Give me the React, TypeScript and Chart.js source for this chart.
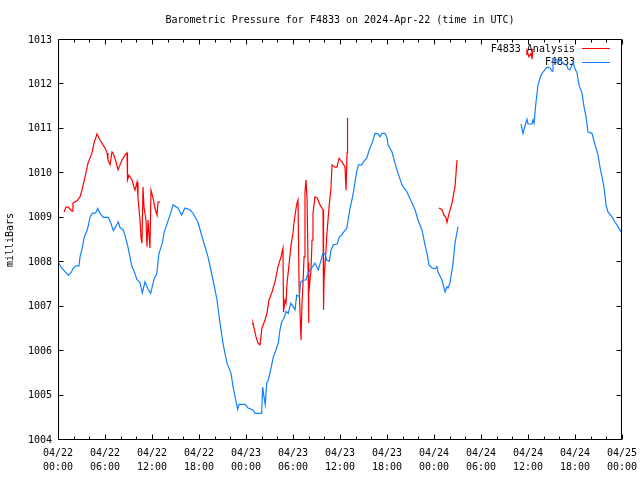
import React, { useEffect, useRef } from "react";
import { Chart, registerables } from "chart.js";

Chart.register(...registerables);

const chartTitle = "Barometric Pressure for F4833 on 2024-Apr-22 (time in UTC)";
const yAxisTitle = "milliBars";
const analysisLabel = "F4833 Analysis";
const stationLabel = "F4833";

const xTickDates = ["04/22", "04/22", "04/22", "04/22", "04/23", "04/23", "04/23", "04/23", "04/24", "04/24", "04/24", "04/24", "04/25"];
const xTickTimes = ["00:00", "06:00", "12:00", "18:00", "00:00", "06:00", "12:00", "18:00", "00:00", "06:00", "12:00", "18:00", "00:00"];

// hours since 2024-04-22 00:00 UTC; null pressure = data gap
const stationHours = [
  0.00, 0.47, 0.89, 1.31, 1.66, 1.95, 2.26, 2.68, 2.81, 3.10, 3.36, 3.66, 3.87, 4.09, 4.38, 4.81, 5.07, 5.36, 5.78, 6.42,
  6.77, 7.06, 7.37, 7.70, 7.92, 8.34, 8.55, 8.77, 8.97, 9.41, 9.83, 10.05, 10.47, 10.76, 11.11, 11.45, 11.83, 12.26, 12.60, 12.89,
  13.32, 13.57, 14.30, 14.68, 15.32, 15.79, 16.21, 16.85, 17.24, 17.87, 18.51, 19.15, 19.79, 20.30, 20.68, 21.06, 21.57, 22.09, 22.34, 22.94,
  23.11, 23.87, 24.26, 24.86, 25.15, 26.00, 26.13, 26.30, 26.46, 26.64, 26.85, 27.15, 27.49, 27.83, 28.12, 28.34, 28.56, 28.85, 29.11, 29.40,
  29.71, 30.04, 30.26, 30.47, 30.81, 30.98, 31.32, 31.66, 31.83, 32.17, 32.52, 32.81, 33.03, 33.23, 33.54, 33.79, 34.09, 34.30, 34.64, 34.85,
  35.15, 35.66, 35.91, 36.22, 36.51, 36.86, 37.06, 37.28, 37.62, 37.83, 38.13, 38.34, 38.77, 38.98, 39.41, 39.74, 40.09, 40.47, 40.85, 41.11,
  41.36, 41.75, 42.00, 42.13, 42.64, 43.02, 43.41, 43.92, 44.55, 45.19, 45.58, 45.96, 46.47, 46.85, 47.11, 47.36, 47.75, 48.13, 48.38, 48.51,
  49.02, 49.41, 49.66, 49.79, 50.04, 50.43, 50.68, 51.07,
  55.00,
  59.11, 59.36, 59.62, 59.87, 60.00, 60.51, 60.64, 60.77, 61.02, 61.28, 61.66, 61.92, 62.43, 62.81, 63.07, 63.19, 63.70, 63.83, 64.09, 64.47,
  64.98, 65.11, 65.36, 65.62, 65.75, 66.00, 66.26, 66.51, 66.90, 67.15, 67.41, 67.66, 68.17, 68.56, 68.94, 69.19, 69.45, 69.70, 69.96, 70.21,
  70.72, 71.11, 71.49, 71.88,
];
const stationPressure = [
  1008.01, 1007.87, 1007.79, 1007.71, 1007.76, 1007.87, 1007.92, 1007.92, 1008.12, 1008.32, 1008.57, 1008.69, 1008.82, 1009.02, 1009.10, 1009.11, 1009.21, 1009.10, 1009.01, 1009.01,
  1008.87, 1008.71, 1008.80, 1008.91, 1008.78, 1008.72, 1008.61, 1008.46, 1008.31, 1007.92, 1007.75, 1007.62, 1007.54, 1007.31, 1007.56, 1007.41, 1007.30, 1007.62, 1007.74, 1008.20,
  1008.43, 1008.69, 1009.06, 1009.29, 1009.22, 1009.06, 1009.22, 1009.18, 1009.10, 1008.90, 1008.50, 1008.12, 1007.60, 1007.15, 1006.63, 1006.18, 1005.73, 1005.50, 1005.20, 1004.69,
  1004.80, 1004.80, 1004.72, 1004.68, 1004.60, 1004.60, 1005.19, 1004.97, 1004.79, 1005.28, 1005.35, 1005.58, 1005.87, 1006.03, 1006.18, 1006.48, 1006.66, 1006.74, 1006.89, 1006.85,
  1007.08, 1007.00, 1006.93, 1007.26, 1007.23, 1007.56, 1007.60, 1007.60, 1007.71, 1007.83, 1007.90, 1007.98, 1007.90, 1007.83, 1008.02, 1008.19, 1008.19, 1008.05, 1008.02, 1008.27,
  1008.39, 1008.41, 1008.57, 1008.61, 1008.69, 1008.76, 1008.98, 1009.21, 1009.48, 1009.70, 1010.04, 1010.19, 1010.19, 1010.26, 1010.34, 1010.53, 1010.68, 1010.90, 1010.89, 1010.82,
  1010.90, 1010.90, 1010.80, 1010.64, 1010.48, 1010.23, 1010.00, 1009.74, 1009.58, 1009.33, 1009.18, 1008.95, 1008.72, 1008.39, 1008.20, 1007.94, 1007.87, 1007.85, 1007.90, 1007.78,
  1007.60, 1007.33, 1007.45, 1007.42, 1007.53, 1007.98, 1008.43, 1008.80,
  null,
  1011.11, 1010.90, 1011.07, 1011.22, 1011.11, 1011.11, 1011.20, 1011.13, 1011.60, 1011.99, 1012.21, 1012.28, 1012.39, 1012.37, 1012.30, 1012.59, 1012.55, 1012.48, 1012.57, 1012.48,
  1012.42, 1012.35, 1012.33, 1012.44, 1012.50, 1012.35, 1012.26, 1011.99, 1011.80, 1011.50, 1011.27, 1010.93, 1010.90, 1010.64, 1010.41, 1010.14, 1009.92, 1009.69, 1009.29, 1009.13,
  1009.02, 1008.90, 1008.80, 1008.68,
];

const analysisHours = [
  0.77, 1.02, 1.28, 1.79, 1.91, 2.43, 2.81, 3.06, 3.45, 3.83, 4.34, 4.60, 4.98, 5.36, 5.74, 6.00, 6.26, 6.38, 6.64, 6.89,
  7.02, 7.40, 7.66, 7.92, 8.17, 8.55, 8.81, 8.87, 9.06, 9.45, 9.70, 9.83, 10.09, 10.21, 10.47, 10.60, 10.72, 10.85, 10.98, 11.23,
  11.36, 11.49, 11.74, 11.87, 12.13, 12.38, 12.64, 12.77, 13.02,
  20.00,
  24.77, 24.89, 25.28, 25.53, 25.79, 26.04, 26.43, 26.68, 26.94, 27.32, 27.70, 28.09, 28.47, 28.72, 28.79, 28.98, 29.11, 29.24, 29.49, 29.75,
  30.00, 30.13, 30.38, 30.51, 30.64, 30.77, 31.02, 31.15, 31.28, 31.41, 31.53, 31.66, 31.79, 31.92, 31.98, 32.04, 32.30, 32.43, 32.55, 32.81,
  33.07, 33.45, 33.83, 33.90, 33.96, 34.21, 34.34, 34.60, 34.85, 34.98, 35.36, 35.62, 35.87, 36.26, 36.64, 36.77, 36.90, 36.96,
  42.00,
  48.64, 49.02, 49.28, 49.53, 49.66, 49.92, 50.30, 50.55, 50.68, 50.81, 50.94,
  55.00,
  59.75, 59.87, 60.13, 60.39, 60.51, 60.64,
];
const analysisPressure = [
  1009.13, 1009.24, 1009.24, 1009.15, 1009.33, 1009.38, 1009.47, 1009.62, 1009.92, 1010.23, 1010.46, 1010.68, 1010.89, 1010.75, 1010.64, 1010.57, 1010.46, 1010.30, 1010.19, 1010.48,
  1010.46, 1010.26, 1010.08, 1010.19, 1010.30, 1010.41, 1010.46, 1009.85, 1009.96, 1009.85, 1009.69, 1009.62, 1009.80, 1009.45, 1008.95, 1008.55, 1008.43, 1009.69, 1009.24, 1008.95,
  1008.35, 1008.95, 1008.32, 1009.62, 1009.45, 1009.22, 1009.06, 1009.35, 1009.35,
  null,
  1006.60, 1006.63, 1006.32, 1006.18, 1006.14, 1006.52, 1006.70, 1006.86, 1007.15, 1007.33, 1007.56, 1007.90, 1008.12, 1008.32, 1006.88, 1007.15, 1007.08, 1007.53, 1007.94, 1008.39,
  1008.66, 1008.90, 1009.20, 1009.33, 1009.40, 1007.53, 1006.25, 1007.08, 1007.53, 1008.12, 1009.58, 1009.85, 1009.45, 1007.98, 1006.63, 1007.30, 1007.83, 1008.50, 1009.10, 1009.47,
  1009.45, 1009.29, 1009.18, 1006.93, 1007.60, 1008.27, 1008.66, 1009.24, 1009.67, 1010.19, 1010.14, 1010.14, 1010.34, 1010.26, 1010.14, 1009.62, 1010.46, 1011.25,
  null,
  1009.22, 1009.18, 1009.06, 1009.00, 1008.90, 1009.10, 1009.33, 1009.58, 1009.69, 1010.00, 1010.30,
  null,
  1012.68, 1012.75, 1012.62, 1012.70, 1012.57, 1012.80,
];

const analysisColor = "#ff0000";
const stationColor = "#1080ff";
const FONT_FAMILY = '"DejaVu Sans Mono", "Liberation Mono", monospace';
const FONT = `10px ${FONT_FAMILY}`;

const toPoints = (xs: number[], ys: (number | null)[]) => xs.map((x, i) => ({ x, y: ys[i] }));

const decorPlugin = {
  id: "gnuplotDecor",
  beforeDatasetsDraw(chart: any) {
    const { ctx } = chart;
    ctx.save();
    ctx.font = FONT;
    ctx.fillStyle = "#000";
    ctx.textAlign = "right";
    ctx.textBaseline = "middle";
    ctx.fillText(analysisLabel, 575, 49);
    ctx.fillText(stationLabel, 575, 62);
    ctx.lineWidth = 1;
    ctx.strokeStyle = analysisColor;
    ctx.beginPath();
    ctx.moveTo(582, 48.5);
    ctx.lineTo(610, 48.5);
    ctx.stroke();
    ctx.strokeStyle = stationColor;
    ctx.beginPath();
    ctx.moveTo(582, 62.5);
    ctx.lineTo(610, 62.5);
    ctx.stroke();
    ctx.restore();
  },
  afterDraw(chart: any) {
    const { ctx, chartArea, scales } = chart;
    const { left, right, top, bottom } = chartArea;
    const x = scales.x;
    const y = scales.y;
    ctx.save();
    ctx.strokeStyle = "#000";
    ctx.lineWidth = 1;
    ctx.beginPath();
    ctx.rect(left + 0.5, top - 0.5, right - left - 1, bottom - top);
    ctx.stroke();
    ctx.beginPath();
    for (let h = x.min; h <= x.max; h += 2) {
      const px = Math.round(x.getPixelForValue(h)) + 0.5;
      const len = h % 6 === 0 ? 5 : 3;
      ctx.moveTo(px, bottom - 0.5);
      ctx.lineTo(px, bottom - 0.5 - len);
      ctx.moveTo(px, top - 0.5);
      ctx.lineTo(px, top - 0.5 + len);
    }
    for (let v = y.min; v <= y.max; v += 1) {
      const py = Math.round(y.getPixelForValue(v)) - 0.5;
      ctx.moveTo(left + 0.5, py);
      ctx.lineTo(left + 0.5 + 5, py);
      ctx.moveTo(right - 0.5, py);
      ctx.lineTo(right - 0.5 - 5, py);
    }
    ctx.stroke();

    ctx.font = FONT;
    ctx.fillStyle = "#000";
    ctx.textAlign = "center";
    ctx.textBaseline = "middle";
    ctx.fillText(chartTitle, (left + right) / 2, 20);
    ctx.translate(10, (top + bottom) / 2);
    ctx.rotate(-Math.PI / 2);
    ctx.fillText(yAxisTitle, 0, 0);
    ctx.restore();
  },
};

export default function App() {
  const canvasRef = useRef<HTMLCanvasElement | null>(null);

  useEffect(() => {
    if (!canvasRef.current) return;
    const chart = new Chart(canvasRef.current, {
      type: "line",
      data: {
        datasets: [
          {
            label: stationLabel,
            data: toPoints(stationHours, stationPressure),
            borderColor: stationColor,
            backgroundColor: stationColor,
            borderWidth: 1.2,
            pointRadius: 0,
            tension: 0,
            spanGaps: false,
          },
          {
            label: analysisLabel,
            data: toPoints(analysisHours, analysisPressure),
            borderColor: analysisColor,
            backgroundColor: analysisColor,
            borderWidth: 1.2,
            pointRadius: 0,
            tension: 0,
            spanGaps: false,
          },
        ],
      },
      options: {
        animation: false,
        responsive: false,
        devicePixelRatio: 1,
        parsing: false as any,
        layout: { padding: { left: 0, right: 18, top: 40, bottom: 0 } },
        plugins: {
          legend: { display: false },
          title: { display: false },
          tooltip: { enabled: false },
        },
        scales: {
          x: {
            type: "linear",
            min: 0,
            max: 72,
            grid: { display: false, drawTicks: false },
            border: { display: false },
            afterFit: (s: any) => {
              s.height = 40;
              s.paddingLeft = 0;
              s.paddingRight = 0;
            },
            afterBuildTicks: (s: any) => {
              s.ticks = xTickDates.map((_, i) => ({ value: i * 6 }));
            },
            ticks: {
              autoSkip: false,
              maxRotation: 0,
              minRotation: 0,
              padding: 6,
              color: "#000",
              font: { family: FONT_FAMILY, size: 10, lineHeight: 1.4 },
              callback: (_v: any, i: number) => [xTickDates[i], xTickTimes[i]],
            },
          },
          y: {
            type: "linear",
            min: 1004,
            max: 1013,
            grid: { display: false, drawTicks: false },
            border: { display: false },
            afterFit: (s: any) => {
              s.width = 58;
              s.paddingTop = 0;
              s.paddingBottom = 0;
            },
            ticks: {
              stepSize: 1,
              padding: 6,
              color: "#000",
              font: { family: FONT_FAMILY, size: 10 },
              callback: (v: any) => String(v),
            },
          },
        },
      },
      plugins: [decorPlugin],
    });
    return () => chart.destroy();
  }, []);

  return (
    <div style={{ position: "absolute", left: 0, top: 0, width: 640, height: 480, background: "#fff" }}>
      <canvas ref={canvasRef} width={640} height={480} style={{ display: "block" }} />
    </div>
  );
}
